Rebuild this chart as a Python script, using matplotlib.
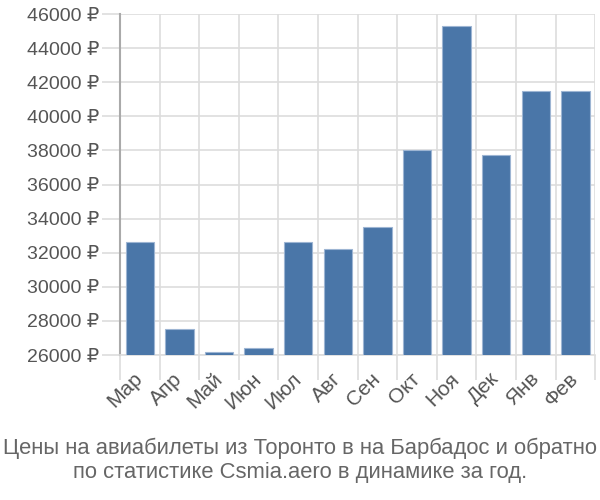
import matplotlib
matplotlib.use("Agg")
import matplotlib.pyplot as plt
from matplotlib.ticker import FixedLocator, FuncFormatter

plt.rcParams['font.family'] = ['Liberation Sans', 'DejaVu Sans']

months = ["Мар", "Апр", "Май", "Июн", "Июл", "Авг", "Сен", "Окт", "Ноя", "Дек", "Янв", "Фев"]
prices = [32600, 27500, 26200, 26400, 32600, 32200, 33500, 38050, 45280, 37750, 41500, 41500]
yticks = list(range(26000, 46001, 2000))
title = "Цены на авиабилеты из Торонто в на Барбадос и обратно\nпо статистике Csmia.aero в динамике за год."

fig = plt.figure(figsize=(6, 5), dpi=100)
ax = fig.add_axes([0.2, 0.29, 0.792, 0.682])

x = list(range(len(months)))
ax.bar(x, prices, width=0.72, color="#4a76a8", edgecolor="#9db5d3", linewidth=0.8, zorder=3)

ax.set_xlim(-0.5, len(months) - 0.5)
ax.set_ylim(26000, 46000)

ax.set_yticks(yticks)
ax.yaxis.set_major_formatter(FuncFormatter(lambda v, p: f"{int(v)} ₽"))
ax.set_xticks(x)
ax.set_xticklabels(months, rotation=45, ha="right", va="center", rotation_mode="anchor")
ax.xaxis.set_minor_locator(FixedLocator([i - 0.5 for i in range(len(months) + 1)]))

ax.grid(True, axis="y", which="major", color="#dddddd", linewidth=1.2, zorder=0)
ax.grid(True, axis="x", which="minor", color="#dddddd", linewidth=1.2, zorder=0)

ax.tick_params(axis="y", which="major", length=13, color="#dddddd", width=1.2,
               labelsize=14, labelcolor="#555555", pad=2)
ax.tick_params(axis="x", which="major", length=0, labelsize=15, labelcolor="#555555", pad=15)
ax.tick_params(axis="x", which="minor", length=18, color="#dddddd", width=1.2)

for s in ["top", "right"]:
    ax.spines[s].set_visible(False)
ax.spines["left"].set_color("#aaaaaa")
ax.spines["left"].set_linewidth(1.5)
ax.spines["bottom"].set_color("#dddddd")
ax.spines["bottom"].set_linewidth(1.2)

fig.text(0.5, 0.08, title, ha="center", va="center", fontsize=15.8, color="#666666", linespacing=1.2)

fig.savefig("out.png", dpi=100)
